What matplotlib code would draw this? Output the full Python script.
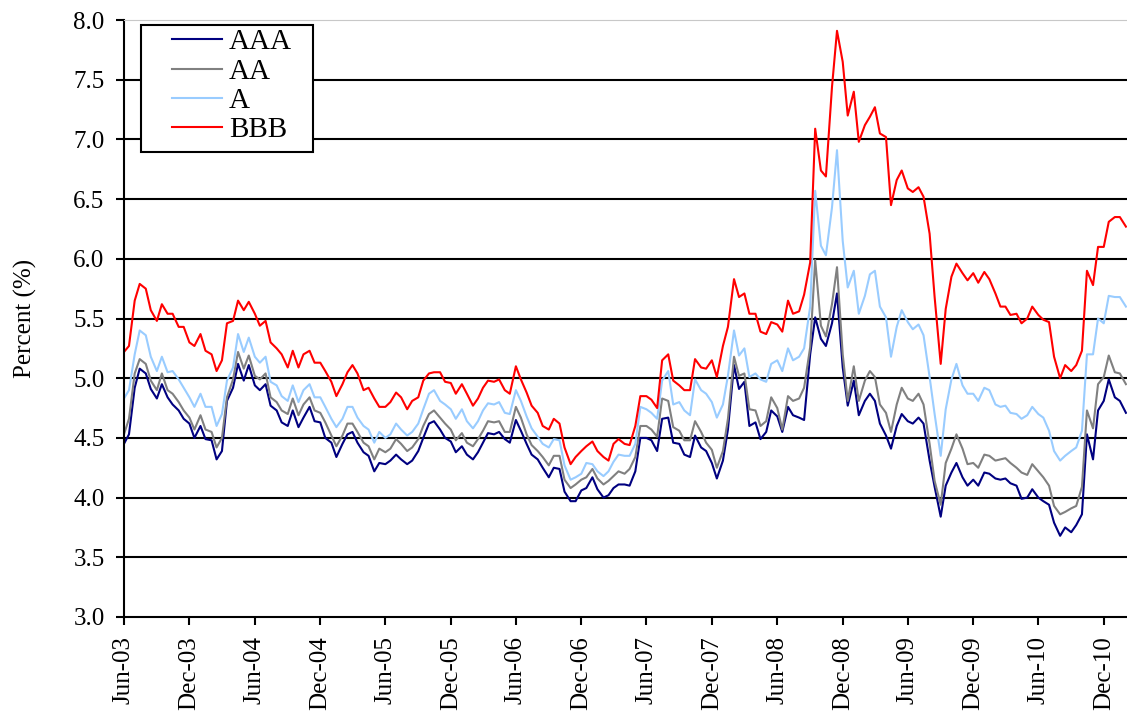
import numpy as np
import pandas as pd
import matplotlib
matplotlib.use('Agg')
import matplotlib.pyplot as plt
import matplotlib.dates as mdates
from matplotlib import font_manager
from matplotlib.patches import Rectangle

# Corporate bond yields by rating (Jun-03 .. Feb-11)
aaa = [4.45, 4.53, 4.92, 5.08, 5.04, 4.91, 4.83, 4.95, 4.84, 4.78, 4.73, 4.66,
       4.62, 4.50, 4.60, 4.49, 4.48, 4.32, 4.39, 4.81, 4.92, 5.12, 4.98, 5.11,
       4.94, 4.90, 4.95, 4.77, 4.73, 4.63, 4.60, 4.73, 4.59, 4.67, 4.76, 4.64,
       4.63, 4.50, 4.46, 4.34, 4.45, 4.53, 4.55, 4.46, 4.38, 4.35, 4.22, 4.29,
       4.28, 4.31, 4.36, 4.32, 4.28, 4.31, 4.39, 4.50, 4.62, 4.64, 4.57, 4.50,
       4.47, 4.38, 4.43, 4.36, 4.32, 4.38, 4.46, 4.54, 4.53, 4.55, 4.49, 4.46,
       4.65, 4.56, 4.45, 4.36, 4.32, 4.25, 4.17, 4.25, 4.24, 4.05, 3.97, 3.97,
       4.06, 4.08, 4.17, 4.07, 4.00, 4.02, 4.08, 4.11, 4.11, 4.10, 4.22, 4.50,
       4.50, 4.48, 4.39, 4.66, 4.67, 4.46, 4.45, 4.36, 4.34, 4.52, 4.42, 4.39,
       4.29, 4.16, 4.31, 4.57, 5.11, 4.91, 4.97, 4.60, 4.63, 4.49, 4.55, 4.73,
       4.68, 4.55, 4.76, 4.69, 4.67, 4.65, 5.20, 5.51, 5.33, 5.27, 5.46, 5.71,
       5.09, 4.77, 4.98, 4.69, 4.81, 4.87, 4.81, 4.62, 4.52, 4.41, 4.60, 4.70,
       4.64, 4.62, 4.67, 4.62, 4.31, 4.09, 3.84, 4.10, 4.21, 4.29, 4.17, 4.10,
       4.15, 4.10, 4.21, 4.20, 4.16, 4.15, 4.16, 4.12, 4.10, 3.99, 4.00, 4.07,
       4.00, 3.97, 3.94, 3.79, 3.68, 3.75, 3.71, 3.77, 3.86, 4.53, 4.32, 4.73,
       4.81, 4.99, 4.84, 4.81, 4.71]

aa = [4.53, 4.66, 5.04, 5.16, 5.12, 4.98, 4.90, 5.04, 4.90, 4.87, 4.80, 4.73,
      4.67, 4.57, 4.69, 4.57, 4.55, 4.42, 4.50, 4.84, 4.99, 5.22, 5.08, 5.19,
      5.02, 4.99, 5.04, 4.84, 4.80, 4.73, 4.70, 4.83, 4.69, 4.78, 4.84, 4.73,
      4.71, 4.63, 4.52, 4.43, 4.52, 4.62, 4.62, 4.55, 4.46, 4.43, 4.32, 4.41,
      4.38, 4.41, 4.49, 4.45, 4.39, 4.42, 4.49, 4.60, 4.70, 4.73, 4.67, 4.62,
      4.57, 4.48, 4.54, 4.46, 4.43, 4.49, 4.56, 4.64, 4.63, 4.64, 4.55, 4.55,
      4.76, 4.67, 4.53, 4.44, 4.39, 4.34, 4.27, 4.35, 4.35, 4.15, 4.08, 4.11,
      4.15, 4.17, 4.24, 4.16, 4.11, 4.14, 4.18, 4.22, 4.20, 4.24, 4.34, 4.60,
      4.60, 4.57, 4.51, 4.83, 4.81, 4.59, 4.56, 4.48, 4.48, 4.64, 4.55, 4.46,
      4.40, 4.25, 4.39, 4.66, 5.18, 5.02, 5.04, 4.74, 4.73, 4.60, 4.64, 4.84,
      4.75, 4.57, 4.85, 4.81, 4.83, 4.92, 5.26, 5.99, 5.44, 5.35, 5.62, 5.93,
      5.20, 4.81, 5.10, 4.81, 4.98, 5.06, 5.01, 4.78, 4.71, 4.55, 4.78, 4.92,
      4.83, 4.81, 4.87, 4.78, 4.45, 4.14, 3.94, 4.29, 4.41, 4.53, 4.41, 4.28,
      4.29, 4.25, 4.36, 4.35, 4.31, 4.32, 4.33, 4.29, 4.25, 4.21, 4.19, 4.28,
      4.22, 4.17, 4.10, 3.93, 3.86, 3.88, 3.91, 3.93, 4.09, 4.73, 4.58, 4.95,
      5.01, 5.19, 5.05, 5.04, 4.95]

a = [4.83, 4.90, 5.20, 5.40, 5.36, 5.18, 5.06, 5.18, 5.05, 5.06, 4.99, 4.92,
     4.84, 4.76, 4.87, 4.76, 4.76, 4.60, 4.70, 4.98, 5.09, 5.37, 5.22, 5.34,
     5.18, 5.13, 5.18, 4.97, 4.94, 4.85, 4.81, 4.94, 4.80, 4.90, 4.95, 4.84,
     4.84, 4.76, 4.66, 4.59, 4.66, 4.76, 4.76, 4.67, 4.60, 4.57, 4.46, 4.55,
     4.50, 4.53, 4.62, 4.57, 4.52, 4.55, 4.62, 4.74, 4.87, 4.90, 4.81, 4.78,
     4.74, 4.66, 4.74, 4.64, 4.58, 4.64, 4.73, 4.79, 4.78, 4.80, 4.71, 4.70,
     4.90, 4.81, 4.68, 4.58, 4.51, 4.45, 4.42, 4.49, 4.48, 4.27, 4.15, 4.17,
     4.20, 4.29, 4.28, 4.22, 4.18, 4.22, 4.30, 4.36, 4.35, 4.35, 4.45, 4.76,
     4.74, 4.71, 4.66, 4.98, 5.06, 4.78, 4.80, 4.73, 4.69, 4.99, 4.90, 4.87,
     4.80, 4.67, 4.78, 5.02, 5.40, 5.19, 5.25, 5.01, 5.04, 4.99, 4.97, 5.12,
     5.15, 5.06, 5.25, 5.15, 5.18, 5.25, 5.60, 6.57, 6.11, 6.03, 6.43, 6.91,
     6.15, 5.76, 5.90, 5.54, 5.69, 5.87, 5.90, 5.60, 5.51, 5.18, 5.43, 5.57,
     5.47, 5.41, 5.45, 5.36, 5.01, 4.70, 4.35, 4.74, 4.99, 5.12, 4.94, 4.87,
     4.87, 4.81, 4.92, 4.90, 4.78, 4.76, 4.77, 4.71, 4.70, 4.66, 4.69, 4.76,
     4.70, 4.67, 4.56, 4.39, 4.31, 4.35, 4.39, 4.42, 4.56, 5.20, 5.20, 5.50,
     5.46, 5.69, 5.68, 5.68, 5.60]

bbb = [5.22, 5.27, 5.65, 5.79, 5.75, 5.57, 5.48, 5.62, 5.54, 5.54, 5.43, 5.43,
       5.30, 5.27, 5.37, 5.23, 5.20, 5.06, 5.15, 5.46, 5.48, 5.65, 5.57, 5.64,
       5.54, 5.44, 5.48, 5.30, 5.25, 5.20, 5.09, 5.23, 5.09, 5.20, 5.23, 5.13,
       5.13, 5.06, 4.97, 4.85, 4.95, 5.05, 5.11, 5.04, 4.90, 4.92, 4.83, 4.76,
       4.76, 4.80, 4.88, 4.84, 4.74, 4.81, 4.84, 4.98, 5.04, 5.05, 5.05, 4.97,
       4.96, 4.87, 4.95, 4.87, 4.77, 4.83, 4.92, 4.98, 4.97, 4.99, 4.90, 4.87,
       5.10, 4.99, 4.88, 4.77, 4.71, 4.60, 4.57, 4.66, 4.62, 4.42, 4.28, 4.34,
       4.39, 4.43, 4.47, 4.39, 4.34, 4.31, 4.45, 4.49, 4.45, 4.44, 4.60, 4.85,
       4.85, 4.82, 4.75, 5.15, 5.20, 4.98, 4.94, 4.90, 4.90, 5.16, 5.09, 5.08,
       5.15, 5.01, 5.27, 5.43, 5.83, 5.68, 5.71, 5.54, 5.54, 5.39, 5.37, 5.47,
       5.45, 5.39, 5.65, 5.54, 5.56, 5.70, 5.97, 7.09, 6.74, 6.69, 7.44, 7.91,
       7.65, 7.20, 7.40, 6.98, 7.12, 7.19, 7.27, 7.05, 7.02, 6.45, 6.66, 6.74,
       6.59, 6.56, 6.60, 6.52, 6.21, 5.68, 5.12, 5.58, 5.85, 5.96, 5.88, 5.82,
       5.88, 5.80, 5.89, 5.83, 5.71, 5.60, 5.60, 5.53, 5.54, 5.46, 5.50, 5.60,
       5.53, 5.49, 5.47, 5.18, 5.00, 5.11, 5.06, 5.11, 5.23, 5.90, 5.78, 6.10,
       6.10, 6.31, 6.35, 6.35, 6.27]

labels = ['AAA', 'AA', 'A', 'BBB']
colors = ['#000080', '#808080', '#99ccff', '#ff0000']

# semi-monthly dates (1st and 15th)
dates = pd.date_range('2003-06-01', periods=len(bbb), freq='SMS')

# Times-like font: take whatever is installed
names = {f.name for f in font_manager.fontManager.ttflist}
serif = 'DejaVu Serif'
for cand in ['Liberation Serif', 'Times New Roman', 'Tinos', 'Nimbus Roman',
             'TeX Gyre Termes', 'FreeSerif', 'STIXGeneral']:
    if cand in names:
        serif = cand
        break
plt.rcParams['font.family'] = [serif, 'DejaVu Serif']

fig = plt.figure(figsize=(11.27, 7.17), dpi=100)
ax = fig.add_axes([0.110, 0.1395, 0.890, 0.8325])

for series, lab, col in zip([aaa, aa, a, bbb], labels, colors):
    ax.plot(dates, series, color=col, lw=1.5, label=lab)

ax.set_ylim(3.0, 8.0)
ax.set_yticks(np.arange(3.0, 8.01, 0.5))
ax.set_yticklabels(['%.1f' % v for v in np.arange(3.0, 8.01, 0.5)])
ax.set_xlim(pd.Timestamp('2003-06-01'), pd.Timestamp('2011-02-04'))
ax.xaxis.set_major_locator(mdates.MonthLocator(bymonth=[6, 12]))
ax.xaxis.set_major_formatter(mdates.DateFormatter('%b-%y'))
plt.setp(ax.get_xticklabels(), rotation=90)

for y in np.arange(3.5, 7.51, 0.5):
    ax.axhline(y, color='black', lw=1.5, zorder=0)

ax.spines['right'].set_visible(False)
ax.spines['top'].set_color('#c8c8c8')
ax.spines['top'].set_linewidth(0.8)
ax.spines['left'].set_linewidth(1.5)
ax.spines['bottom'].set_linewidth(1.5)
ax.tick_params(axis='both', direction='out', length=6, width=1.5, labelsize=18, pad=8)

ax.set_ylabel('Percent (%)', fontsize=18, labelpad=26)

# legend box drawn by hand so its size matches the original
box = Rectangle((141 / 1127, 1 - 152 / 717), 172 / 1127, 127 / 717,
                transform=fig.transFigure, facecolor='white',
                edgecolor='black', lw=1.5, zorder=5, clip_on=False)
ax.add_patch(box)
leg = ax.legend(loc='upper left', bbox_to_anchor=(172 / 1127, 1 - 29 / 717),
                bbox_transform=fig.transFigure, fontsize=21, frameon=False,
                handlelength=1.7, handletextpad=0.25, labelspacing=0.1,
                borderpad=0, borderaxespad=0)
leg.set_zorder(6)

plt.savefig('out.png', dpi=100)
